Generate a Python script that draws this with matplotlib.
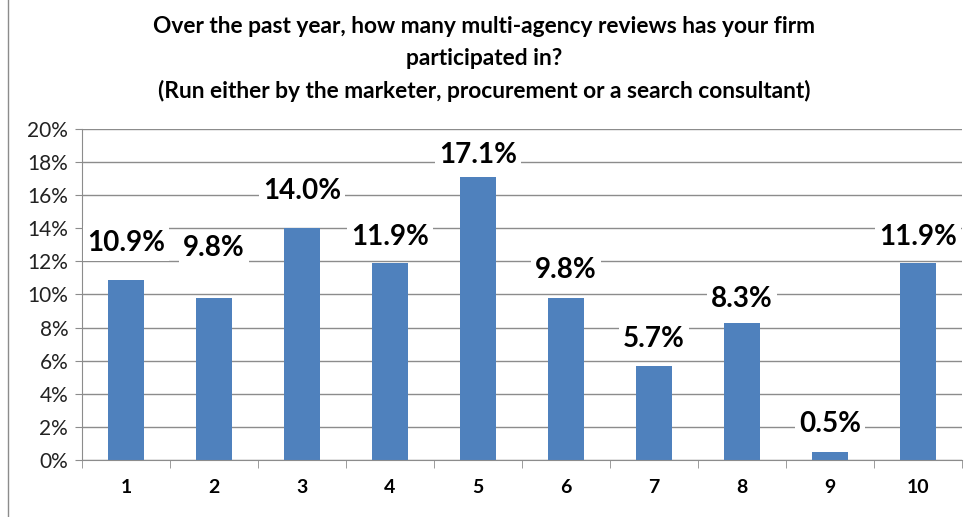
import matplotlib.pyplot as plt
from matplotlib.lines import Line2D

# data
categories = ['1', '2', '3', '4', '5', '6', '7', '8', '9', '10']
shares = [10.9, 9.8, 14.0, 11.9, 17.1, 9.8, 5.7, 8.3, 0.5, 11.9]
# label offsets above bar tops (points), labels were placed by hand in the original
label_offsets = [26, 36, 27, 19, 16, 20, 19, 17, 20, 19]

plt.rcParams['font.family'] = ['Lato', 'DejaVu Sans']

fig = plt.figure(figsize=(9.72, 5.17), dpi=100)
ax = fig.add_axes([0.0844, 0.1103, 0.9053, 0.6402])

x = list(range(len(categories)))
ax.bar(x, shares, width=0.4, color='#4F81BD', zorder=2)

ax.set_xlim(-0.5, len(categories) - 0.5)
ax.set_ylim(0, 20)
ax.set_yticks(range(0, 21, 2))
ax.set_yticklabels([f'{v}%' for v in range(0, 21, 2)], fontsize=15, color='#222222')
ax.yaxis.grid(True, color='#8c8c8c', linewidth=1, zorder=0)

# category labels centred, ticks on boundaries
ax.set_xticks(x)
ax.set_xticklabels(categories, fontsize=14, fontweight='bold')
ax.tick_params(axis='x', length=0, pad=14)
ax.set_xticks([i - 0.5 for i in range(len(categories) + 1)], minor=True)
ax.tick_params(axis='x', which='minor', length=6, color='#8c8c8c')
ax.tick_params(axis='y', length=5, color='#8c8c8c', pad=5)

for s in ['top', 'right']:
    ax.spines[s].set_visible(False)
for s in ['left', 'bottom']:
    ax.spines[s].set_color('#8c8c8c')

for xi, v, off in zip(x, shares, label_offsets):
    ax.annotate(f'{v:.1f}%', (xi, v), xytext=(0, off), textcoords='offset points',
                ha='center', va='center', fontsize=20, fontweight='bold',
                bbox=dict(boxstyle='square,pad=0.15', fc='white', ec='none'),
                zorder=3)

fig.text(0.498, 0.886,
         'Over the past year, how many multi-agency reviews has your firm\n'
         'participated in?\n'
         '(Run either by the marketer, procurement or a search consultant)',
         ha='center', va='center', fontsize=16.4, fontweight='bold',
         linespacing=1.6)

# thin frame line on the left edge
fig.add_artist(Line2D([0.0085, 0.0085], [0, 1], color='#8c8c8c', linewidth=1))

fig.savefig('out.png', dpi=100)
